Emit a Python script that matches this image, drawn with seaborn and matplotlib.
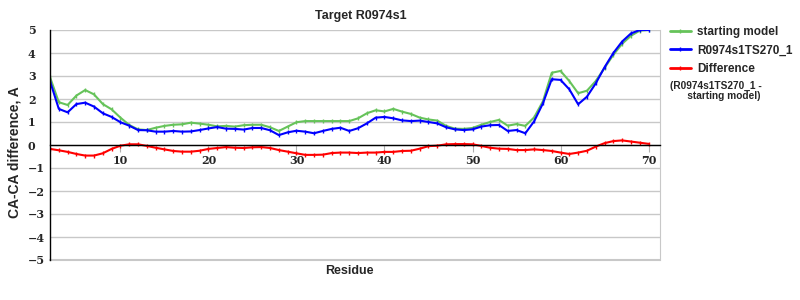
import matplotlib
matplotlib.use("Agg")
import matplotlib.pyplot as plt
import seaborn as sns
import pandas as pd
from matplotlib.lines import Line2D

residues = list(range(2, 71))

starting_model = [2.95, 1.86, 1.74, 2.15, 2.39, 2.20, 1.78, 1.55, 1.19, 0.87,
                  0.68, 0.65, 0.75, 0.83, 0.88, 0.90, 0.97, 0.93, 0.88, 0.81,
                  0.83, 0.80, 0.86, 0.88, 0.88, 0.77, 0.61, 0.80, 0.99, 1.04,
                  1.04, 1.04, 1.04, 1.04, 1.04, 1.16, 1.38, 1.51, 1.46, 1.57,
                  1.45, 1.35, 1.19, 1.11, 1.06, 0.83, 0.71, 0.70, 0.74, 0.88,
                  1.00, 1.09, 0.84, 0.91, 0.83, 1.20, 1.90, 3.14, 3.22, 2.78,
                  2.25, 2.36, 2.78, 3.35, 3.92, 4.40, 4.75, 4.97, 5.00]

model_ts270 = [2.78, 1.57, 1.42, 1.78, 1.84, 1.67, 1.38, 1.22, 0.99, 0.84,
               0.65, 0.64, 0.58, 0.58, 0.61, 0.58, 0.59, 0.65, 0.72, 0.78,
               0.71, 0.70, 0.67, 0.74, 0.74, 0.64, 0.43, 0.55, 0.62, 0.58,
               0.51, 0.61, 0.70, 0.75, 0.61, 0.73, 0.94, 1.19, 1.22, 1.16,
               1.07, 1.04, 1.06, 1.00, 0.94, 0.77, 0.68, 0.65, 0.68, 0.80,
               0.86, 0.87, 0.61, 0.65, 0.51, 1.03, 1.81, 2.86, 2.83, 2.42,
               1.77, 2.10, 2.68, 3.38, 4.00, 4.50, 4.85, 5.00, 5.00]

difference = [-0.17, -0.23, -0.30, -0.39, -0.46, -0.46, -0.36, -0.17, -0.03, 0.03,
              0.03, -0.04, -0.12, -0.19, -0.26, -0.29, -0.29, -0.25, -0.17, -0.13,
              -0.09, -0.12, -0.13, -0.10, -0.09, -0.13, -0.22, -0.29, -0.36, -0.43,
              -0.43, -0.42, -0.35, -0.33, -0.33, -0.35, -0.33, -0.33, -0.30, -0.30,
              -0.26, -0.25, -0.16, -0.05, -0.03, 0.03, 0.04, 0.04, 0.03, -0.04,
              -0.12, -0.16, -0.17, -0.22, -0.22, -0.19, -0.22, -0.26, -0.33, -0.39,
              -0.33, -0.25, -0.07, 0.08, 0.17, 0.20, 0.15, 0.10, 0.05]

x_ticks = [10, 20, 30, 40, 50, 60, 70]
y_ticks = [-5, -4, -3, -2, -1, 0, 1, 2, 3, 4, 5]

sns.set_style("white")
plt.rcParams['font.family'] = ['Liberation Sans', 'DejaVu Sans']

fig = plt.figure(figsize=(8, 3), dpi=100)
ax = fig.add_axes([50/800, 1 - 260/300, 610/800, 230/300])

df = pd.DataFrame({"Residue": residues, "start": starting_model,
                   "model": model_ts270, "diff": difference})

series = [("start", "#66c35a", "starting model"),
          ("model", "#0000ff", "R0974s1TS270_1"),
          ("diff", "#ff0000", "Difference")]
for col, color, lab in series:
    sns.lineplot(data=df, x="Residue", y=col, ax=ax, color=color, linewidth=1.5,
                 marker="|", markersize=3, markeredgewidth=1.0,
                 markeredgecolor=color, markerfacecolor=color, label=lab,
                 legend=False)

ax.set_xlim(2, 71.3)
ax.set_ylim(-5, 5)
ax.set_yticks(y_ticks)
ax.set_xticks(x_ticks)
ax.yaxis.grid(True, color="#c8c8c8", linewidth=1)
ax.xaxis.grid(False)
ax.set_axisbelow(True)

ax.spines['bottom'].set_position(('data', 0))
ax.spines['bottom'].set_color('black')
ax.spines['bottom'].set_linewidth(1)
ax.spines['left'].set_color('black')
ax.spines['left'].set_linewidth(1)
ax.spines['right'].set_visible(True)
ax.spines['right'].set_color('#c8c8c8')
ax.spines['top'].set_visible(False)
ax.axhline(-5, color='#c8c8c8', linewidth=1.5, clip_on=False)

ax.tick_params(axis='x', which='both', direction='out', length=5, color='#b0b0b0',
               pad=2, bottom=True)
ax.tick_params(axis='y', length=0, pad=16)
for lbl in ax.get_xticklabels() + ax.get_yticklabels():
    lbl.set_fontfamily('DejaVu Serif')
    lbl.set_fontweight('bold')
    lbl.set_fontsize(8)
for lbl in ax.get_yticklabels():
    lbl.set_horizontalalignment('left')

ax.set_xlabel("Residue", fontsize=9, fontweight='bold')
ax.xaxis.set_label_coords(0.49, -0.02)
ax.xaxis.label.set_verticalalignment('top')
ax.set_ylabel("CA-CA difference, A", fontsize=10, fontweight='bold')
ax.yaxis.set_label_coords(-0.047, 0.47)
ax.set_title("Target R0974s1", fontsize=9, fontweight='bold', pad=8, x=0.51)

handles = [Line2D([0], [0], color=c, linewidth=2, marker='|', markersize=3,
                  markeredgewidth=1) for _, c, _ in series]
labels = [l for _, _, l in series]
leg = ax.legend(handles, labels, loc='upper left',
                bbox_to_anchor=((670 - 50) / 610, (260 - 26) / 230),
                frameon=False, handlelength=1.75, handletextpad=0.55,
                labelspacing=0.55, borderaxespad=0, borderpad=0,
                prop={'weight': 'bold', 'size': 8.5})
fig.text(670 / 800, 1 - 81 / 300, "(R0974s1TS270_1 -\n      starting model)",
         fontsize=7.3, fontweight='bold', va='top', ha='left', linespacing=0.95)

fig.savefig("out.png", dpi=100, facecolor='white')
